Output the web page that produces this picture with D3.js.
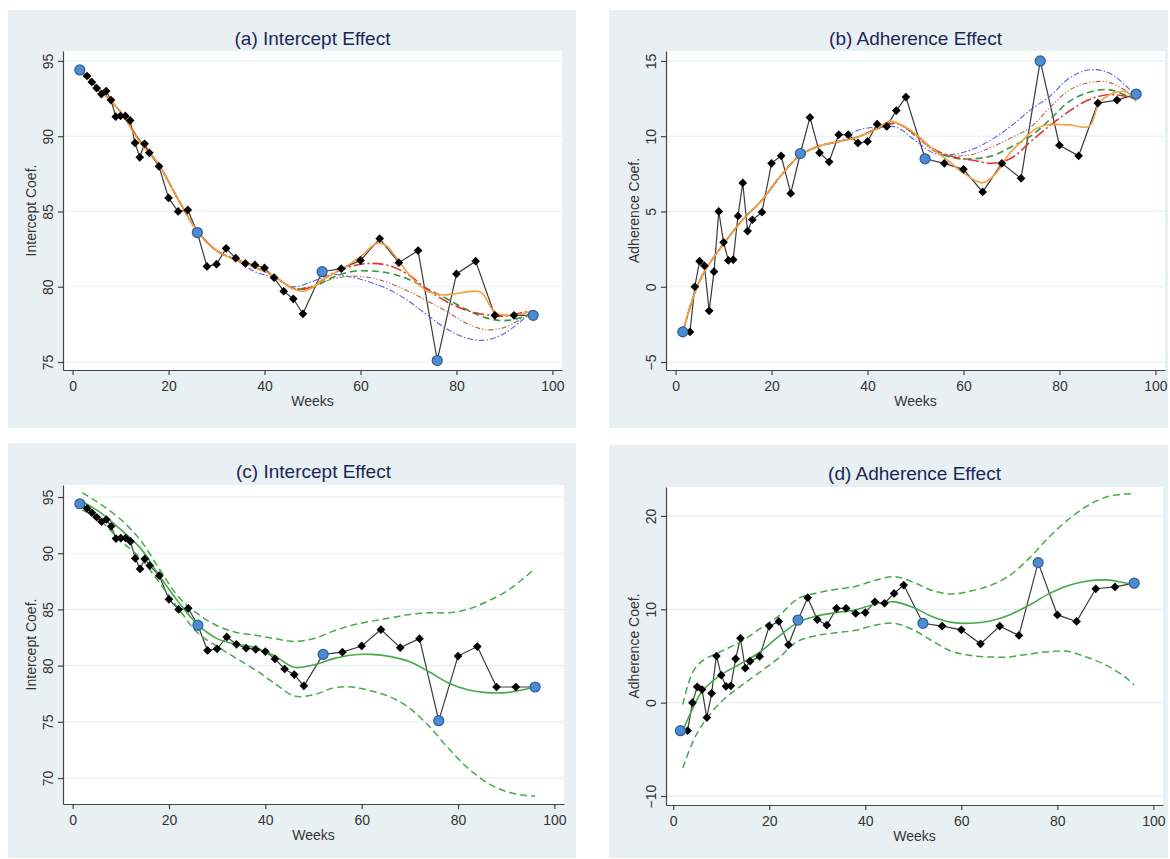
<!DOCTYPE html>
<html>
<head>
<meta charset="utf-8">
<script src="https://cdn.jsdelivr.net/npm/d3@7"></script>
<style>
  body { margin: 0; background: #ffffff; }
  svg { display: block; font-family: Arial, "Liberation Sans", sans-serif; }
</style>
</head>
<body>
<svg id="chart" width="1170" height="859"></svg>
<script>
// ---- Observed coefficients by week ----
const weeks = [1.5, 3, 4, 5, 6, 7, 8, 9, 10, 11, 12, 13, 14, 15, 16, 18, 20, 22, 24, 26,
  28, 30, 32, 34, 36, 38, 40, 42, 44, 46, 48, 52, 56, 60, 64, 68, 72, 76, 80, 84, 88, 92, 96];
const interceptCoef = [94.4, 94.0, 93.6, 93.2, 92.8, 93.0, 92.4, 91.3, 91.35, 91.35, 91.05, 89.55, 88.6, 89.5, 88.9, 88.0, 85.9, 85.0, 85.1, 83.6,
  81.35, 81.5, 82.55, 81.9, 81.55, 81.45, 81.25, 80.6, 79.7, 79.2, 78.2, 81.0, 81.2, 81.75, 83.2, 81.6, 82.4, 75.1, 80.85, 81.7, 78.1, 78.1, 78.1];
const adherenceCoef = [-3.0, -3.0, 0.0, 1.7, 1.4, -1.6, 1.0, 5.0, 2.95, 1.75, 1.8, 4.7, 6.9, 3.7, 4.45, 4.95, 8.2, 8.7, 6.2, 8.85,
  11.25, 8.9, 8.3, 10.1, 10.1, 9.55, 9.65, 10.8, 10.65, 11.7, 12.6, 8.5, 8.2, 7.8, 6.3, 8.2, 7.2, 15.0, 9.4, 8.7, 12.2, 12.4, 12.8];
// weeks marked as knots
const knotWeeks = [1.5, 26, 52, 76, 96];

// ---- Smoothed estimates, panels (a) and (b) ----
const smoothWeeks = [1.5, 4, 6, 10, 14, 18, 22, 26, 30, 34, 38, 42, 46, 50, 54, 58, 62, 66, 70, 74, 78, 82, 86, 90, 94, 96];
const interceptRed   = [94.4, 93.7, 93.0, 91.6, 89.7, 88.1, 85.8, 83.7, 82.4, 81.8, 81.3, 80.7, 79.9, 80.0, 80.85, 81.35, 81.55, 81.4, 80.8, 79.8, 79.0, 78.45, 78.15, 78.05, 78.3, 78.4];
const interceptGreen = [94.4, 93.7, 93.0, 91.6, 89.7, 88.1, 85.8, 83.7, 82.4, 81.8, 81.3, 80.7, 79.9, 79.95, 80.6, 81.0, 81.05, 80.9, 80.5, 79.85, 79.2, 78.5, 77.95, 77.75, 78.0, 78.3];
const interceptBrown = [94.4, 93.7, 93.0, 91.6, 89.7, 88.1, 85.8, 83.7, 82.4, 81.8, 81.3, 80.7, 79.9, 80.05, 80.5, 80.7, 80.6, 80.25, 79.7, 79.05, 78.35, 77.6, 77.15, 77.3, 77.95, 78.3];
const interceptBlue  = [94.4, 93.7, 93.0, 91.6, 89.7, 88.1, 85.8, 83.7, 82.4, 81.8, 81.0, 80.6, 80.0, 80.35, 80.8, 80.65, 80.3, 79.8, 79.05, 78.1, 77.2, 76.6, 76.45, 76.9, 77.85, 78.3];
const interceptOrangeWeeks = [1.5, 4, 6, 10, 14, 18, 22, 26, 30, 34, 38, 42, 46, 48, 50, 52, 56, 60, 63.5, 65.5, 68, 71, 74, 77, 81, 85, 87.5, 89, 92, 96];
const interceptOrange = [94.4, 93.7, 93.0, 91.6, 89.6, 88.1, 85.8, 83.7, 82.4, 81.8, 81.3, 80.7, 79.85, 79.7, 79.95, 80.45, 81.15, 82.0, 82.9, 82.7, 81.7, 80.5, 79.7, 79.45, 79.6, 79.65, 78.5, 78.15, 78.1, 78.4];

const adherenceRed   = [-3.0, -0.4, 1.0, 2.85, 4.45, 5.75, 7.4, 8.75, 9.35, 9.65, 9.95, 10.5, 10.85, 10.1, 9.1, 8.62, 8.4, 8.2, 8.55, 9.65, 10.7, 11.65, 12.4, 12.75, 12.65, 12.5];
const adherenceGreen = [-3.0, -0.4, 1.0, 2.85, 4.45, 5.75, 7.4, 8.75, 9.35, 9.65, 9.95, 10.5, 10.85, 10.1, 9.05, 8.55, 8.5, 8.7, 9.3, 10.0, 11.1, 12.3, 12.9, 13.1, 12.7, 12.4];
const adherenceBrown = [-3.0, -0.4, 1.0, 2.85, 4.45, 5.75, 7.4, 8.75, 9.35, 9.65, 9.95, 10.5, 10.85, 10.0, 9.0, 8.7, 8.8, 9.3, 9.9, 10.6, 11.9, 13.05, 13.55, 13.6, 13.0, 12.6];
const adherenceBlue  = [-3.0, -0.4, 1.0, 2.85, 4.45, 5.75, 7.4, 8.75, 9.35, 9.65, 10.4, 10.6, 10.6, 9.7, 8.85, 8.8, 9.15, 9.8, 10.7, 11.75, 12.65, 13.85, 14.4, 14.25, 13.3, 12.6];
const adherenceOrangeWeeks = [1.5, 4, 6, 10, 14, 18, 22, 26, 30, 34, 38, 42, 44.7, 48.9, 53, 56.5, 60, 64, 66.8, 69.6, 72.4, 75.1, 77.2, 82.1, 86.2, 88.3, 91.1, 93.9, 96];
const adherenceOrange = [-3.0, -0.4, 1.0, 2.85, 4.45, 5.75, 7.4, 8.75, 9.35, 9.65, 9.95, 10.5, 11.0, 10.4, 9.3, 8.45, 7.55, 6.9, 7.55, 8.85, 9.75, 10.5, 10.75, 10.75, 10.65, 12.2, 12.85, 12.95, 12.3];

// ---- Fitted curve with confidence band, panels (c) and (d) ----
const bandWeeks = [2, 4, 6, 10, 14, 18, 22, 26, 30, 34, 38, 42, 46, 50, 54, 58, 62, 66, 70, 74, 78, 82, 86, 90, 94, 96];
const interceptFit   = [94.6, 94.1, 93.55, 92.1, 90.5, 88.0, 85.65, 83.65, 82.4, 81.9, 81.6, 80.85, 79.85, 80.05, 80.6, 80.95, 81.0, 80.8, 80.35, 79.45, 78.45, 77.85, 77.6, 77.6, 77.9, 78.1];
const interceptUpper = [95.4, 94.85, 94.3, 93.0, 91.2, 88.6, 86.1, 84.6, 83.55, 82.95, 82.7, 82.4, 82.15, 82.4, 83.05, 83.6, 83.95, 84.25, 84.55, 84.7, 84.7, 85.0, 85.7, 86.6, 87.9, 88.65];
const interceptLower = [93.85, 93.4, 92.8, 91.1, 89.6, 87.4, 85.05, 82.9, 81.7, 80.65, 79.6, 78.4, 77.3, 77.4, 78.0, 78.1, 77.75, 77.2, 76.2, 74.6, 72.65, 70.9, 69.6, 68.8, 68.45, 68.4];
const adherenceFit   = [-3.0, -0.7, 1.2, 3.0, 4.15, 5.4, 7.1, 8.6, 9.3, 9.65, 9.95, 10.55, 10.8, 10.2, 9.2, 8.6, 8.5, 8.75, 9.4, 10.4, 11.6, 12.5, 13.0, 13.15, 12.85, 12.65];
const adherenceUpper = [-0.2, 3.2, 4.45, 5.5, 6.5, 7.9, 9.3, 11.15, 11.75, 12.15, 12.45, 13.1, 13.5, 12.9, 12.0, 11.65, 11.95, 12.55, 13.6, 15.4, 17.6, 19.5, 21.0, 22.0, 22.35, 22.35];
const adherenceLower = [-7.0, -4.3, -2.4, 0.1, 1.75, 3.25, 4.8, 6.6, 7.2, 7.5, 7.75, 8.3, 8.5, 7.8, 6.6, 5.5, 5.05, 4.9, 4.9, 5.2, 5.45, 5.5, 4.9, 4.05, 2.8, 1.9];

// ---- Tick labels ----
const weekTicks = [0, 20, 40, 60, 80, 100];
const interceptTicksTop = [75, 80, 85, 90, 95];
const adherenceTicksTop = [-5, 0, 5, 10, 15];
const interceptTicksBottom = [70, 75, 80, 85, 90, 95];
const adherenceTicksBottom = [-10, 0, 10, 20];

// ---- Line styles ----
const styles = {
  orange: { stroke: "#f5a03c", width: 1.6, dash: null },
  red:    { stroke: "#e4322b", width: 1.6, dash: "11,3,2,3" },
  green:  { stroke: "#2f9a3c", width: 1.6, dash: "7,4" },
  brown:  { stroke: "#b0663e", width: 1.1, dash: "5,2,1.2,2,1.2,2" },
  blue:   { stroke: "#5b5be6", width: 1.1, dash: "6,2,1.5,2" },
  fit:    { stroke: "#47a94a", width: 1.6, dash: null },
  band:   { stroke: "#47a94a", width: 1.5, dash: "7,4" }
};

const svg = d3.select("#chart");

function zip(xs, ys) { return xs.map((w, i) => ({ w, v: ys[i] })); }

function drawPanel(cfg) {
  const g = svg.append("g");
  const [bx0, by0, bx1, by1] = cfg.box;
  const [px0, py0, px1, py1] = cfg.plot;

  g.append("rect").attr("x", bx0).attr("y", by0).attr("width", bx1 - bx0).attr("height", by1 - by0)
    .attr("fill", "#e9f0f3");
  g.append("rect").attr("x", px0).attr("y", py0).attr("width", px1 - px0).attr("height", py1 - py0)
    .attr("fill", "#ffffff");

  const x = d3.scaleLinear().domain(cfg.xDomain).range([px0, px1]);
  const y = d3.scaleLinear().domain(cfg.yDomain).range([py1, py0]);

  // horizontal grid
  g.append("g").selectAll("line").data(cfg.yTicks).join("line")
    .attr("x1", px0).attr("x2", px1)
    .attr("y1", d => y(d)).attr("y2", d => y(d))
    .attr("stroke", "#e8eff2").attr("stroke-width", 1.2);

  // axes
  const yAxis = g.append("g").attr("transform", `translate(${px0},0)`)
    .call(d3.axisLeft(y).tickValues(cfg.yTicks).tickSize(5).tickSizeOuter(0).tickFormat(d3.format("d")));
  yAxis.selectAll("text")
    .attr("transform", "rotate(-90)")
    .attr("x", 0).attr("y", -10).attr("dy", 0)
    .attr("text-anchor", "middle");
  const xAxis = g.append("g").attr("transform", `translate(0,${py1})`)
    .call(d3.axisBottom(x).tickValues(weekTicks).tickSize(5).tickSizeOuter(0).tickPadding(6));
  [yAxis, xAxis].forEach(a => {
    a.select(".domain").attr("stroke", "#444").attr("stroke-width", 1.2);
    a.selectAll(".tick line").attr("stroke", "#444").attr("stroke-width", 1.2);
    a.selectAll("text").attr("fill", "#333").style("font-size", "14px")
      .style("font-family", "Arial, 'Liberation Sans', sans-serif");
  });

  // titles
  g.append("text").attr("x", (px0 + px1) / 2).attr("y", by0 + 35)
    .attr("text-anchor", "middle").attr("fill", "#1c2656").style("font-size", "19px")
    .text(cfg.title);
  g.append("text").attr("x", (px0 + px1) / 2).attr("y", py1 + 36)
    .attr("text-anchor", "middle").attr("fill", "#333").style("font-size", "14px")
    .text("Weeks");
  g.append("text")
    .attr("transform", `translate(${px0 - 27},${(py0 + py1) / 2}) rotate(-90)`)
    .attr("text-anchor", "middle").attr("fill", "#333").style("font-size", "14px")
    .text(cfg.yLabel);

  const line = d3.line().x(d => x(d.w)).y(d => y(d.v)).curve(d3.curveCatmullRom.alpha(0.5));
  const plotG = g.append("g");

  // observed series
  const obs = zip(weeks, cfg.observed);
  plotG.append("path").datum(obs)
    .attr("d", d3.line().x(d => x(d.w)).y(d => y(d.v)))
    .attr("fill", "none").attr("stroke", "#3a3a3a").attr("stroke-width", 1.2);

  // smooth curves
  cfg.curves.forEach(c => {
    const s = styles[c.style];
    plotG.append("path").datum(zip(c.weeks, c.values))
      .attr("d", line)
      .attr("fill", "none")
      .attr("stroke", s.stroke).attr("stroke-width", s.width)
      .attr("stroke-dasharray", s.dash);
  });

  // markers
  const diamond = d3.symbol(d3.symbolSquare, 38)();
  plotG.append("g").selectAll("path").data(obs.filter(d => !knotWeeks.includes(d.w))).join("path")
    .attr("d", diamond)
    .attr("transform", d => `translate(${x(d.w)},${y(d.v)}) rotate(45)`)
    .attr("fill", "#000");
  plotG.append("g").selectAll("circle").data(obs.filter(d => knotWeeks.includes(d.w))).join("circle")
    .attr("cx", d => x(d.w)).attr("cy", d => y(d.v)).attr("r", 5)
    .attr("fill", "#4d8cce").attr("stroke", "#2b5d9a").attr("stroke-width", 1.2);
}

drawPanel({
  title: "(a) Intercept Effect", yLabel: "Intercept Coef.",
  box: [8, 10, 576, 428], plot: [63, 51, 562, 370],
  xDomain: [-2, 102], yDomain: [74.47, 95.66], yTicks: interceptTicksTop,
  observed: interceptCoef,
  curves: [
    { style: "blue",  weeks: smoothWeeks, values: interceptBlue },
    { style: "brown", weeks: smoothWeeks, values: interceptBrown },
    { style: "green", weeks: smoothWeeks, values: interceptGreen },
    { style: "red",   weeks: smoothWeeks, values: interceptRed },
    { style: "orange", weeks: interceptOrangeWeeks, values: interceptOrange }
  ]
});

drawPanel({
  title: "(b) Adherence Effect", yLabel: "Adherence Coef.",
  box: [609, 10, 1168, 428], plot: [666, 51, 1165, 370],
  xDomain: [-2, 102], yDomain: [-5.53, 15.66], yTicks: adherenceTicksTop,
  observed: adherenceCoef,
  curves: [
    { style: "blue",  weeks: smoothWeeks, values: adherenceBlue },
    { style: "brown", weeks: smoothWeeks, values: adherenceBrown },
    { style: "green", weeks: smoothWeeks, values: adherenceGreen },
    { style: "red",   weeks: smoothWeeks, values: adherenceRed },
    { style: "orange", weeks: adherenceOrangeWeeks, values: adherenceOrange }
  ]
});

drawPanel({
  title: "(c) Intercept Effect", yLabel: "Intercept Coef.",
  box: [8, 443, 576, 858], plot: [63, 485, 564, 804],
  xDomain: [-2, 102], yDomain: [67.69, 96.07], yTicks: interceptTicksBottom,
  observed: interceptCoef,
  curves: [
    { style: "band", weeks: bandWeeks, values: interceptUpper },
    { style: "band", weeks: bandWeeks, values: interceptLower },
    { style: "fit",  weeks: bandWeeks, values: interceptFit }
  ]
});

drawPanel({
  title: "(d) Adherence Effect", yLabel: "Adherence Coef.",
  box: [609, 445, 1168, 858], plot: [666, 487, 1163, 805],
  xDomain: [-1.5, 102], yDomain: [-10.96, 23.1], yTicks: adherenceTicksBottom,
  observed: adherenceCoef,
  curves: [
    { style: "band", weeks: bandWeeks, values: adherenceUpper },
    { style: "band", weeks: bandWeeks, values: adherenceLower },
    { style: "fit",  weeks: bandWeeks, values: adherenceFit }
  ]
});
</script>
</body>
</html>
